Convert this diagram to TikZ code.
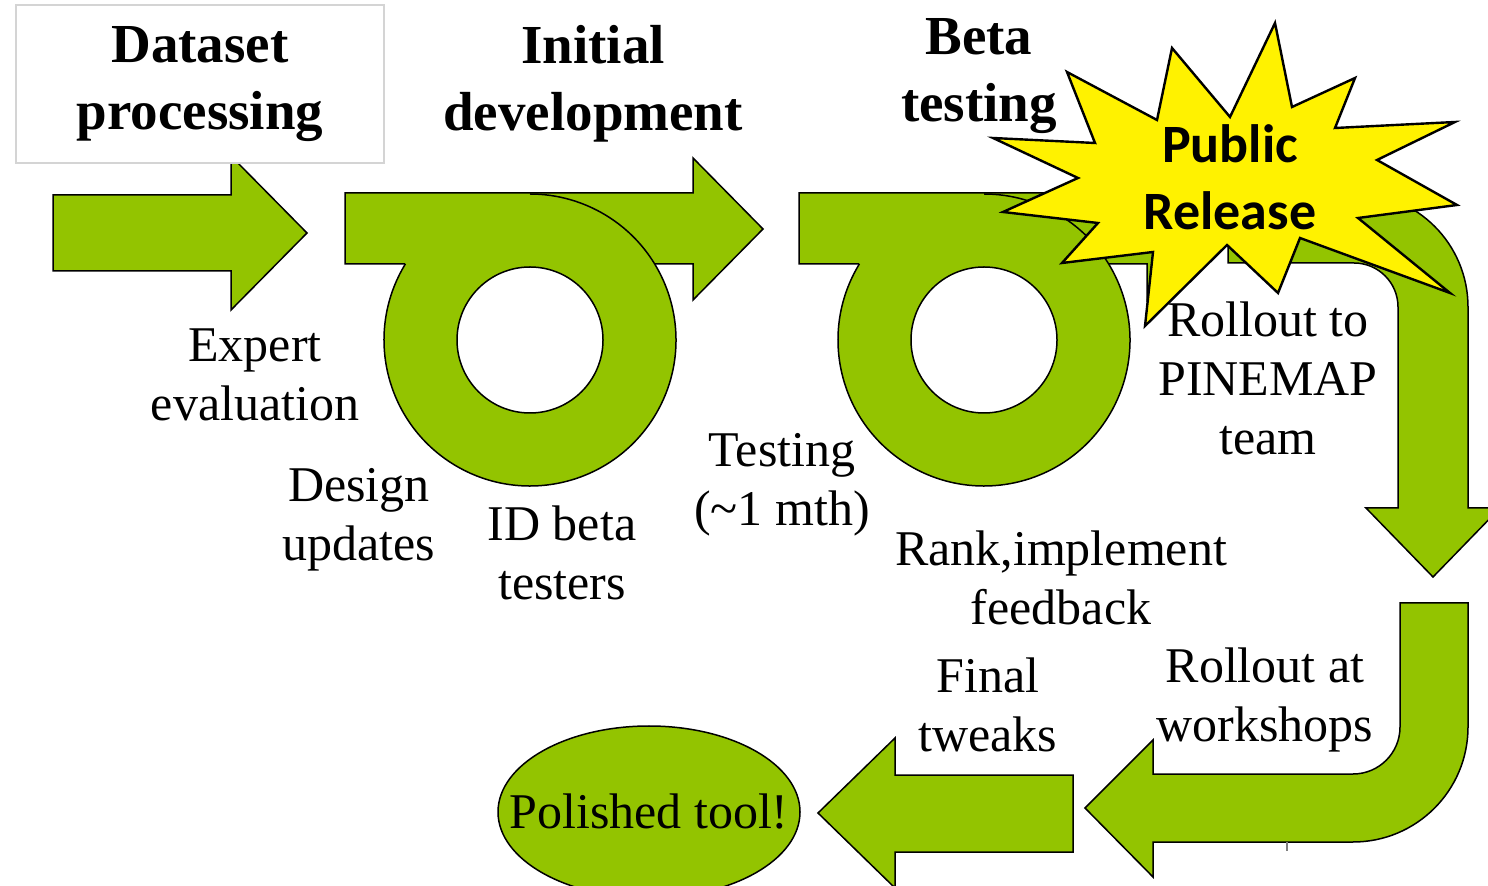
\documentclass[tikz,border=0pt]{standalone}
\usepackage{fontspec}
\setmainfont{Liberation Serif}
\newfontfamily\starfont{Carlito}
\usetikzlibrary{shapes.geometric}
\definecolor{leaf}{RGB}{147,196,0}
\definecolor{boxgray}{RGB}{212,212,212}
\begin{document}
\begin{tikzpicture}[x=0.5pt, y=-0.5pt,
    arrowshape/.style={fill=leaf, draw=black, line width=0.75pt},
    edgeline/.style={draw=black, line width=0.75pt},
    notetext/.style={align=center, inner sep=0pt, font=\fontsize{25}{29.5}\selectfont},
    headtext/.style={align=center, inner sep=0pt, font=\bfseries\fontsize{27.5}{33.5}\selectfont}]

\useasboundingbox (0,0) rectangle (1488,886);
\clip (0,0) rectangle (1488,886);

% dataset arrow, box on top
\filldraw[arrowshape] (53,195) -- (231,195) -- (231,156) -- (307,233) -- (231,310) -- (231,271) -- (53,271) -- cycle;
\node (dataset) [headtext, draw=boxgray, line width=0.6pt, fill=white, minimum width=184pt, minimum height=79pt] at (200,84) {Dataset\\processing};

% loop 1 (initial development)
\fill[leaf] (345,193) -- (693,193) -- (693,158) -- (763,229) -- (693,300) -- (693,264) -- (345,264) -- cycle;
\fill[leaf, even odd rule] (530,340) circle[radius=146] (530,340) circle[radius=73];
\draw[edgeline] (405,264) -- (345,264) -- (345,193) -- (693,193) -- (693,158) -- (763,229) -- (693,300) -- (693,264) -- (655,264);
\draw[edgeline] (530,340) ++(211.4:146) arc[start angle=211.4, end angle=-90, radius=146];
\draw[edgeline] (530,340) circle[radius=73];

% loop 2 (beta testing)
\fill[leaf] (799,193) -- (1147,193) -- (1147,158) -- (1217,229) -- (1147,300) -- (1147,264) -- (799,264) -- cycle;
\fill[leaf, even odd rule] (984,340) circle[radius=146] (984,340) circle[radius=73];
\draw[edgeline] (859,264) -- (799,264) -- (799,193) -- (1147,193) -- (1147,158) -- (1217,229) -- (1147,300) -- (1147,264) -- (1109,264);
\draw[edgeline] (984,340) ++(211.4:146) arc[start angle=211.4, end angle=-90, radius=146];
\draw[edgeline] (984,340) circle[radius=73];

% bent arrow down the right side
\filldraw[arrowshape] (1228,193) -- (1354,193) arc[start angle=-90, end angle=0, radius=114]
    -- (1468,508) -- (1500,508) -- (1433,577) -- (1366,508) -- (1398,508) -- (1398,307)
    arc[start angle=0, end angle=-90, radius=44] -- (1228,263) -- cycle;

% J arrow back to the left
\filldraw[arrowshape] (1400,603) -- (1400,727) arc[start angle=0, end angle=90, radius=47]
    -- (1153,774) -- (1153,740) -- (1085,808) -- (1153,877) -- (1153,842) -- (1353,842)
    arc[start angle=90, end angle=0, radius=115] -- (1468,603) -- cycle;
\draw[gray, line width=0.6pt] (1287,842) -- (1287,851);

% final arrow
\filldraw[arrowshape] (1073,775) -- (895,775) -- (895,738) -- (818,813) -- (895,888) -- (895,852) -- (1073,852) -- cycle;

% end result
\node (tool) [ellipse, draw, line width=0.75pt, fill=leaf, minimum width=151pt, minimum height=86pt, inner sep=0pt] at (649,812) {};
\node (tooltext) [notetext] at (tool.center) {Polished tool!};

% release star
\filldraw[fill=yellow, draw=black, line width=1.2pt] (1275,23) -- (1292,107) -- (1355,78) -- (1335,128)
    -- (1455,122) -- (1377,160) -- (1457,205) -- (1358,218) -- (1450,293) -- (1300,238)
    -- (1278,293) -- (1227,245) -- (1145,326) -- (1153,252) -- (1062,263) -- (1098,223)
    -- (1003,212) -- (1078,178) -- (993,138) -- (1095,143) -- (1067,72) -- (1157,120)
    -- (1172,48) -- (1230,117) -- cycle;
\node (release) [align=center, inner sep=0pt, font=\starfont\bfseries\fontsize{27}{33.5}\selectfont] at (1230,177.5) {Public\\Release};

% stage titles
\node (initial) [headtext] at (593,84) {Initial\\development};
\node (beta) [headtext] at (979,76) {Beta\\testing};

% step labels
\node (expert) [notetext] at (255,375) {Expert\\evaluation};
\node (design) [notetext] at (359,520) {Design\\updates};
\node (idbeta) [notetext] at (562,553) {ID beta\\testers};
\node (testing) [notetext] at (782,485) {Testing\\(\textasciitilde1 mth)};
\node (rank) [notetext] at (1061,578) {Rank,implement\\feedback};
\node (pinemap) [notetext] at (1268,378) {Rollout to\\PINEMAP\\team};
\node (final) [notetext] at (988,705) {Final\\tweaks};
\node (workshops) [notetext] at (1265,700) {Rollout at\\workshops};
\end{tikzpicture}
\end{document}
